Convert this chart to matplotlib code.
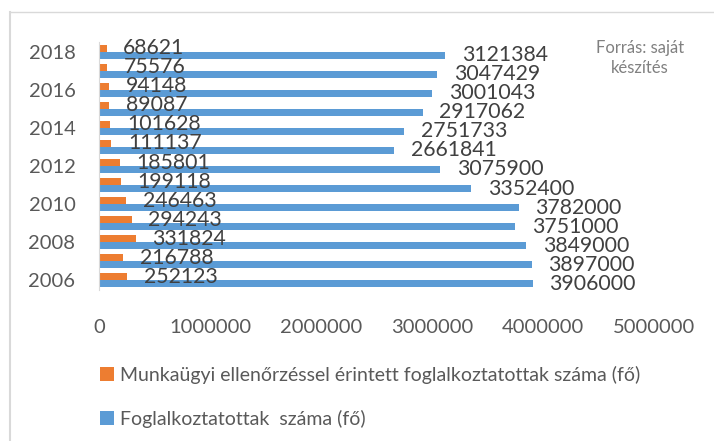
import matplotlib
matplotlib.use('Agg')
import matplotlib.pyplot as plt
from matplotlib.lines import Line2D

plt.rcParams['font.family'] = ['Lato', 'DejaVu Sans']

years = ['2006', '2007', '2008', '2009', '2010', '2011', '2012',
         '2013', '2014', '2015', '2016', '2017', '2018']
foglalkoztatottak = [3906000, 3897000, 3849000, 3751000, 3782000, 3352400, 3075900,
                     2661841, 2751733, 2917062, 3001043, 3047429, 3121384]
ellenorzott = [252123, 216788, 331824, 294243, 246463, 199118, 185801,
               111137, 101628, 89087, 94148, 75576, 68621]
xticks = [0, 1000000, 2000000, 3000000, 4000000, 5000000]

lbl_orange = 'Munkaügyi ellenőrzéssel érintett foglalkoztatottak száma (fő)'
lbl_blue = 'Foglalkoztatottak  száma (fő)'

W, H = 714, 441
fig = plt.figure(figsize=(W / 100, H / 100), dpi=100)
ax = fig.add_axes([99 / W, 1 - 290 / H, (654 - 99) / W, (290 - 42) / H])

y = list(range(len(years)))
h = 0.365
b_or = ax.barh([v + h / 2 for v in y], ellenorzott, height=h, color='#ED7D31', label=lbl_orange)
b_bl = ax.barh([v - h / 2 for v in y], foglalkoztatottak, height=h, color='#5B9BD5', label=lbl_blue)

ax.bar_label(b_or, labels=[str(v) for v in ellenorzott], padding=12, fontsize=15.3, color='#404040')
ax.bar_label(b_bl, labels=[str(v) for v in foglalkoztatottak], padding=12, fontsize=15.3, color='#404040')

ax.set_xlim(0, 5000000)
ax.set_ylim(-0.5, len(years) - 0.5)
ax.set_xticks(xticks)
ax.set_xticklabels([str(t) for t in xticks])
ax.set_yticks(y[::2])
ax.set_yticklabels(years[::2])
ax.tick_params(axis='both', length=0, labelsize=14.5, labelcolor='#595959')
ax.tick_params(axis='x', pad=21)
ax.tick_params(axis='y', pad=17)
for s in ['top', 'right', 'bottom']:
    ax.spines[s].set_visible(False)
ax.spines['left'].set_color('#d9d9d9')

fig.legend(handles=[b_or, b_bl], loc='upper left', bbox_to_anchor=(92 / W, 1 - 358 / H),
           frameon=False, fontsize=14, labelcolor='#595959', handlelength=0.75,
           handleheight=0.75, handletextpad=0.3, labelspacing=1.35, borderaxespad=0)

fig.text(640 / W, 1 - 58 / H, 'Forrás: saját\nkészítés', ha='center', va='center',
         fontsize=12, color='#808080', linespacing=1.3)

fig.add_artist(Line2D([10 / W, 10 / W], [0, 1 - 12 / H], color='#d9d9d9', lw=1.5))
fig.add_artist(Line2D([10 / W, 1], [1 - 12 / H, 1 - 12 / H], color='#d9d9d9', lw=1))

fig.savefig('out.png', dpi=100)
